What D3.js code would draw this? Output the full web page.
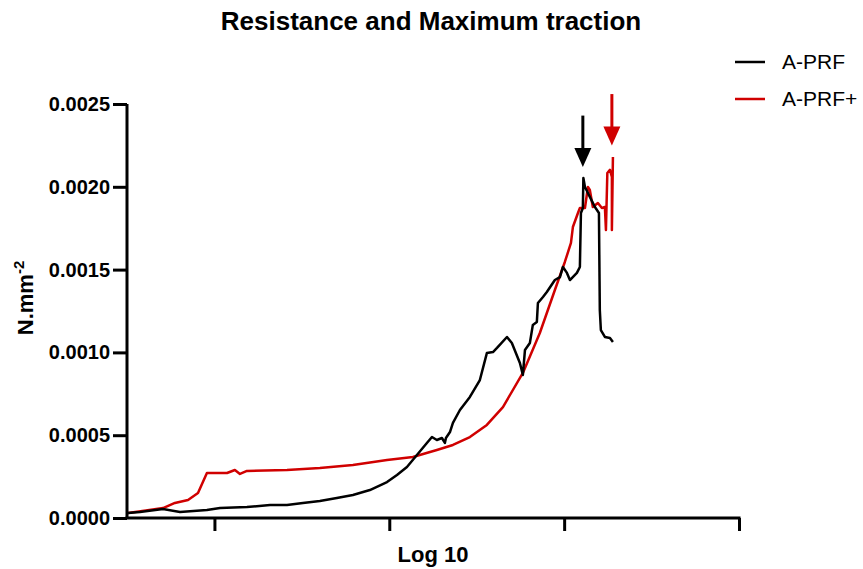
<!DOCTYPE html>
<html>
<head>
<meta charset="utf-8">
<script src="https://cdn.jsdelivr.net/npm/d3@7"></script>
<style>
  body { margin: 0; background: #fff; }
  text { font-family: "Liberation Sans", Arial, sans-serif; }
</style>
</head>
<body>
<div id="chart"></div>
<script>
// Resistance and Maximum traction - two traction curves
const chartTitle = 'Resistance and Maximum traction';
const seriesNames = ['A-PRF', 'A-PRF+'];
const seriesColors = ['#000000', '#d00000'];

// x in log10 units, y in N.mm-2
const aprfX = [0.506, 0.574, 0.706, 0.803, 0.957, 1.032, 1.186, 1.318, 1.415, 1.506, 1.603, 1.700, 1.792, 1.889, 1.987,
    2.044, 2.101, 2.158, 2.215, 2.244, 2.272, 2.301, 2.318, 2.324, 2.347, 2.364, 2.404, 2.461, 2.518, 2.558, 2.593, 2.616,
    2.673, 2.701, 2.747, 2.764, 2.776, 2.804, 2.821, 2.844, 2.850, 2.879, 2.901, 2.947, 2.976, 2.993, 3.016, 3.033, 3.073,
    3.090, 3.096, 3.107, 3.110, 3.119, 3.147, 3.176, 3.199, 3.204, 3.210, 3.233, 3.262, 3.279];
const aprfY = [0.000030, 0.000036, 0.000054, 0.000036, 0.000048, 0.000060, 0.000066, 0.000079, 0.000079, 0.000091, 0.000103,
    0.000121, 0.000139, 0.000169, 0.000217, 0.000260, 0.000308, 0.000380, 0.000453, 0.000489, 0.000471, 0.000483, 0.000453,
    0.000483, 0.000519, 0.000574, 0.000652, 0.000731, 0.000833, 0.000996, 0.001002, 0.001027, 0.001093, 0.001057, 0.000936,
    0.000864, 0.001015, 0.001057, 0.001166, 0.001184, 0.001298, 0.001335, 0.001365, 0.001437, 0.001455, 0.001516, 0.001480,
    0.001437, 0.001480, 0.001516, 0.001842, 0.001872, 0.002053, 0.001999, 0.001939, 0.001878, 0.001842, 0.001256, 0.001135,
    0.001093, 0.001087, 0.001063];

const aprfPlusX = [0.506, 0.706, 0.774, 0.849, 0.906, 0.957, 1.072, 1.117, 1.146, 1.186, 1.415, 1.603, 1.792, 1.987, 2.135,
    2.272, 2.364, 2.461, 2.558, 2.650, 2.764, 2.861, 2.947, 3.004, 3.039, 3.050, 3.079, 3.090, 3.119, 3.136, 3.147, 3.164,
    3.193, 3.216, 3.233, 3.239, 3.247, 3.262, 3.273, 3.273, 3.279];
const aprfPlusY = [0.000030, 0.000060, 0.000091, 0.000109, 0.000151, 0.000272, 0.000272, 0.000290, 0.000266, 0.000284,
    0.000290, 0.000302, 0.000320, 0.000350, 0.000368, 0.000411, 0.000441, 0.000489, 0.000562, 0.000670, 0.000876, 0.001117,
    0.001377, 0.001546, 0.001661, 0.001757, 0.001842, 0.001872, 0.001872, 0.001999, 0.001981, 0.001878, 0.001902, 0.001872,
    0.001878, 0.001739, 0.002083, 0.002102, 0.002059, 0.001739, 0.002180];

// arrows marking the maximum traction of each series
const arrowX = [3.107, 3.273];
const arrowTop = [0.00243, 0.00256];
const arrowTip = [0.00212, 0.00225];

const yTicks = [0, 0.0005, 0.001, 0.0015, 0.002, 0.0025];
const xTicks = [1, 2, 3, 4];

const width = 863, height = 569;
const margin = { top: 104, right: 124, bottom: 51, left: 127 };

const svg = d3.select('#chart')
    .append('svg')
    .attr('width', width)
    .attr('height', height);

const x = d3.scaleLinear()
    .domain([0.5, 4])
    .range([margin.left, width - margin.right]);

const y = d3.scaleLinear()
    .domain([0, 0.0025])
    .range([height - margin.bottom, margin.top]);

// Title
svg.append('text')
    .attr('x', 431)
    .attr('y', 30)
    .attr('text-anchor', 'middle')
    .attr('font-size', '26px')
    .attr('font-weight', 'bold')
    .text(chartTitle);

// Lines
const series = [
    { name: seriesNames[0], color: seriesColors[0], values: aprfX.map((d, i) => [d, aprfY[i]]) },
    { name: seriesNames[1], color: seriesColors[1], values: aprfPlusX.map((d, i) => [d, aprfPlusY[i]]) }
];

const line = d3.line()
    .x(d => x(d[0]))
    .y(d => y(d[1]));

// red drawn first, black on top
svg.append('g')
    .selectAll('path')
    .data(series.slice().reverse())
    .enter()
    .append('path')
    .attr('d', d => line(d.values))
    .attr('fill', 'none')
    .attr('stroke', d => d.color)
    .attr('stroke-width', 2.5)
    .attr('stroke-linejoin', 'round');

// Arrows
arrowX.forEach((ax, i) => {
    const px = x(ax);
    const tip = y(arrowTip[i]);
    svg.append('line')
        .attr('x1', px).attr('x2', px)
        .attr('y1', y(arrowTop[i])).attr('y2', tip - 16)
        .attr('stroke', seriesColors[i])
        .attr('stroke-width', 3);
    svg.append('path')
        .attr('d', `M${px - 8.5},${tip - 19}L${px + 8.5},${tip - 19}L${px},${tip}Z`)
        .attr('fill', seriesColors[i]);
});

// Axes
const yAxis = svg.append('g')
    .attr('transform', `translate(${margin.left},0)`)
    .call(d3.axisLeft(y).tickValues(yTicks).tickFormat(d3.format('.4f')).tickSize(14).tickPadding(3));

const xAxis = svg.append('g')
    .attr('transform', `translate(0,${height - margin.bottom})`)
    .call(d3.axisBottom(x).tickValues(xTicks).tickFormat('').tickSize(13));

[yAxis, xAxis].forEach(ax => {
    ax.select('.domain').attr('stroke', '#000').attr('stroke-width', 3);
    ax.selectAll('.tick line').attr('stroke', '#000').attr('stroke-width', 3);
});
// no outer tick stubs on the domain
yAxis.select('.domain').attr('d', `M0,${y(0.0025)}V${y(0)}`);
xAxis.select('.domain').attr('d', `M${x(0.5) - 1.5},0H${x(4) + 1.5}`);

yAxis.selectAll('.tick text')
    .attr('font-family', '"Liberation Sans", Arial, sans-serif')
    .attr('font-size', '20px')
    .attr('font-weight', 'bold')
    .attr('fill', '#000');

// Axis titles
svg.append('text')
    .attr('x', (margin.left + width - margin.right) / 2)
    .attr('y', 562)
    .attr('text-anchor', 'middle')
    .attr('font-size', '22px')
    .attr('font-weight', 'bold')
    .text('Log 10');

const yLabel = svg.append('text')
    .attr('transform', 'translate(33,298) rotate(-90)')
    .attr('text-anchor', 'middle')
    .attr('font-size', '22px')
    .attr('font-weight', 'bold');
yLabel.append('tspan').text('N.mm');
yLabel.append('tspan')
    .attr('dy', -9)
    .attr('font-size', '15px')
    .text('-2');

// Legend
const legend = svg.append('g')
    .attr('transform', 'translate(735,62)');

const legendItems = legend.selectAll('.legend-item')
    .data(series)
    .enter()
    .append('g')
    .attr('class', 'legend-item')
    .attr('transform', (d, i) => `translate(0, ${i * 37})`);

legendItems.append('line')
    .attr('x1', 0).attr('x2', 30)
    .attr('stroke', d => d.color)
    .attr('stroke-width', 2.5);

legendItems.append('text')
    .attr('x', 47)
    .attr('dy', '0.35em')
    .attr('font-size', '21px')
    .text(d => d.name);
</script>
</body>
</html>
